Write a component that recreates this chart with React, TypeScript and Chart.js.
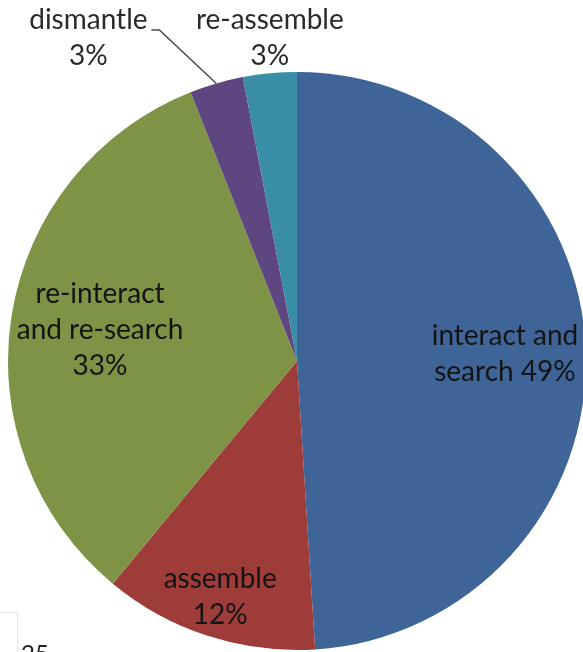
import React, { useEffect, useRef } from "react";
import { Chart, registerables } from "chart.js";

Chart.register(...registerables);

// ---- data ----
const categories = ["interact and search", "assemble", "re-interact and re-search", "dismantle", "re-assemble"];
const shares = [49, 12, 33, 3, 3];
// how each category name wraps onto lines in the label
const labelWraps = [["interact and", "search"], ["assemble"], ["re-interact", "and re-search"], ["dismantle"], ["re-assemble"]];
const percentOnLastLine = [true, false, false, false, false];
const sliceColors = ["#3f6598", "#9e3c3a", "#7e9346", "#5e4780", "#3a8da6"];

// label placement: inside (radius fraction) or outside (x shift from slice edge)
const placements: any[] = [
  { inside: 0.72 },
  { inside: 0.86 },
  { inside: 0.69 },
  { outside: true, dx: -128, leader: true },
  { outside: true, dx: 0 },
];

const FONT = "28px Lato, 'Open Sans', sans-serif";
const LINE = 36;

const labelPlugin = {
  id: "sliceLabels",
  afterDatasetsDraw(chart: any) {
    const ctx = chart.ctx as CanvasRenderingContext2D;
    const meta = chart.getDatasetMeta(0);
    ctx.save();
    ctx.font = FONT;
    ctx.textAlign = "center";
    ctx.textBaseline = "middle";
    meta.data.forEach((arc: any, i: number) => {
      const p = arc.getProps(["x", "y", "startAngle", "endAngle", "outerRadius"], true);
      const mid = (p.startAngle + p.endAngle) / 2;
      const lines = labelWraps[i].slice();
      const pct = shares[i] + "%";
      if (percentOnLastLine[i]) lines[lines.length - 1] += " " + pct;
      else lines.push(pct);
      const pl = placements[i];
      const ex = p.x + Math.cos(mid) * p.outerRadius;
      const ey = p.y + Math.sin(mid) * p.outerRadius;
      let cx: number, firstY: number;
      if (pl.inside) {
        cx = p.x + Math.cos(mid) * p.outerRadius * pl.inside;
        const cy = p.y + Math.sin(mid) * p.outerRadius * pl.inside;
        firstY = cy - ((lines.length - 1) * LINE) / 2;
        ctx.fillStyle = "#141414";
      } else {
        cx = ex + pl.dx;
        const top = p.y - p.outerRadius;
        firstY = top - 16 - (lines.length - 1) * LINE;
        ctx.fillStyle = "#2a2a2a";
        if (pl.leader) {
          const top2 = top - 42;
          ctx.strokeStyle = "#4a4a4a";
          ctx.lineWidth = 1.5;
          ctx.beginPath();
          ctx.moveTo(ex, ey);
          ctx.lineTo(ex - 57, top2);
          ctx.lineTo(ex - 65, top2);
          ctx.stroke();
        }
      }
      lines.forEach((t, k) => ctx.fillText(t, cx, firstY + k * LINE));
    });
    ctx.restore();
  },
};

export default function App() {
  const ref = useRef<HTMLCanvasElement>(null);
  useEffect(() => {
    if (!ref.current) return;
    const chart = new Chart(ref.current, {
      type: "pie",
      data: {
        labels: categories,
        datasets: [
          {
            data: shares,
            backgroundColor: sliceColors,
            borderWidth: 0,
          },
        ],
      },
      options: {
        responsive: false,
        animation: false,
        devicePixelRatio: 1,
        layout: { padding: 8 },
        plugins: { legend: { display: false }, tooltip: { enabled: false } },
      },
      plugins: [labelPlugin],
    });
    return () => chart.destroy();
  }, []);
  return (
    <div style={{ position: "fixed", left: 0, top: 0, width: 583, height: 652, overflow: "hidden", background: "#fff" }}>
      <canvas ref={ref} width={594} height={722} style={{ position: "absolute", left: 0, top: 0 }} />
      <div
        style={{
          position: "absolute",
          left: -1,
          top: 612,
          width: 18,
          height: 50,
          borderTop: "1px solid #e2e2e2",
          borderRight: "1px solid #e2e2e2",
        }}
      />
      <div
        style={{
          position: "absolute",
          left: 21,
          top: 641,
          font: "24px Lato, 'Open Sans', sans-serif",
          lineHeight: "24px",
          color: "#222",
        }}
      >
        25
      </div>
    </div>
  );
}
